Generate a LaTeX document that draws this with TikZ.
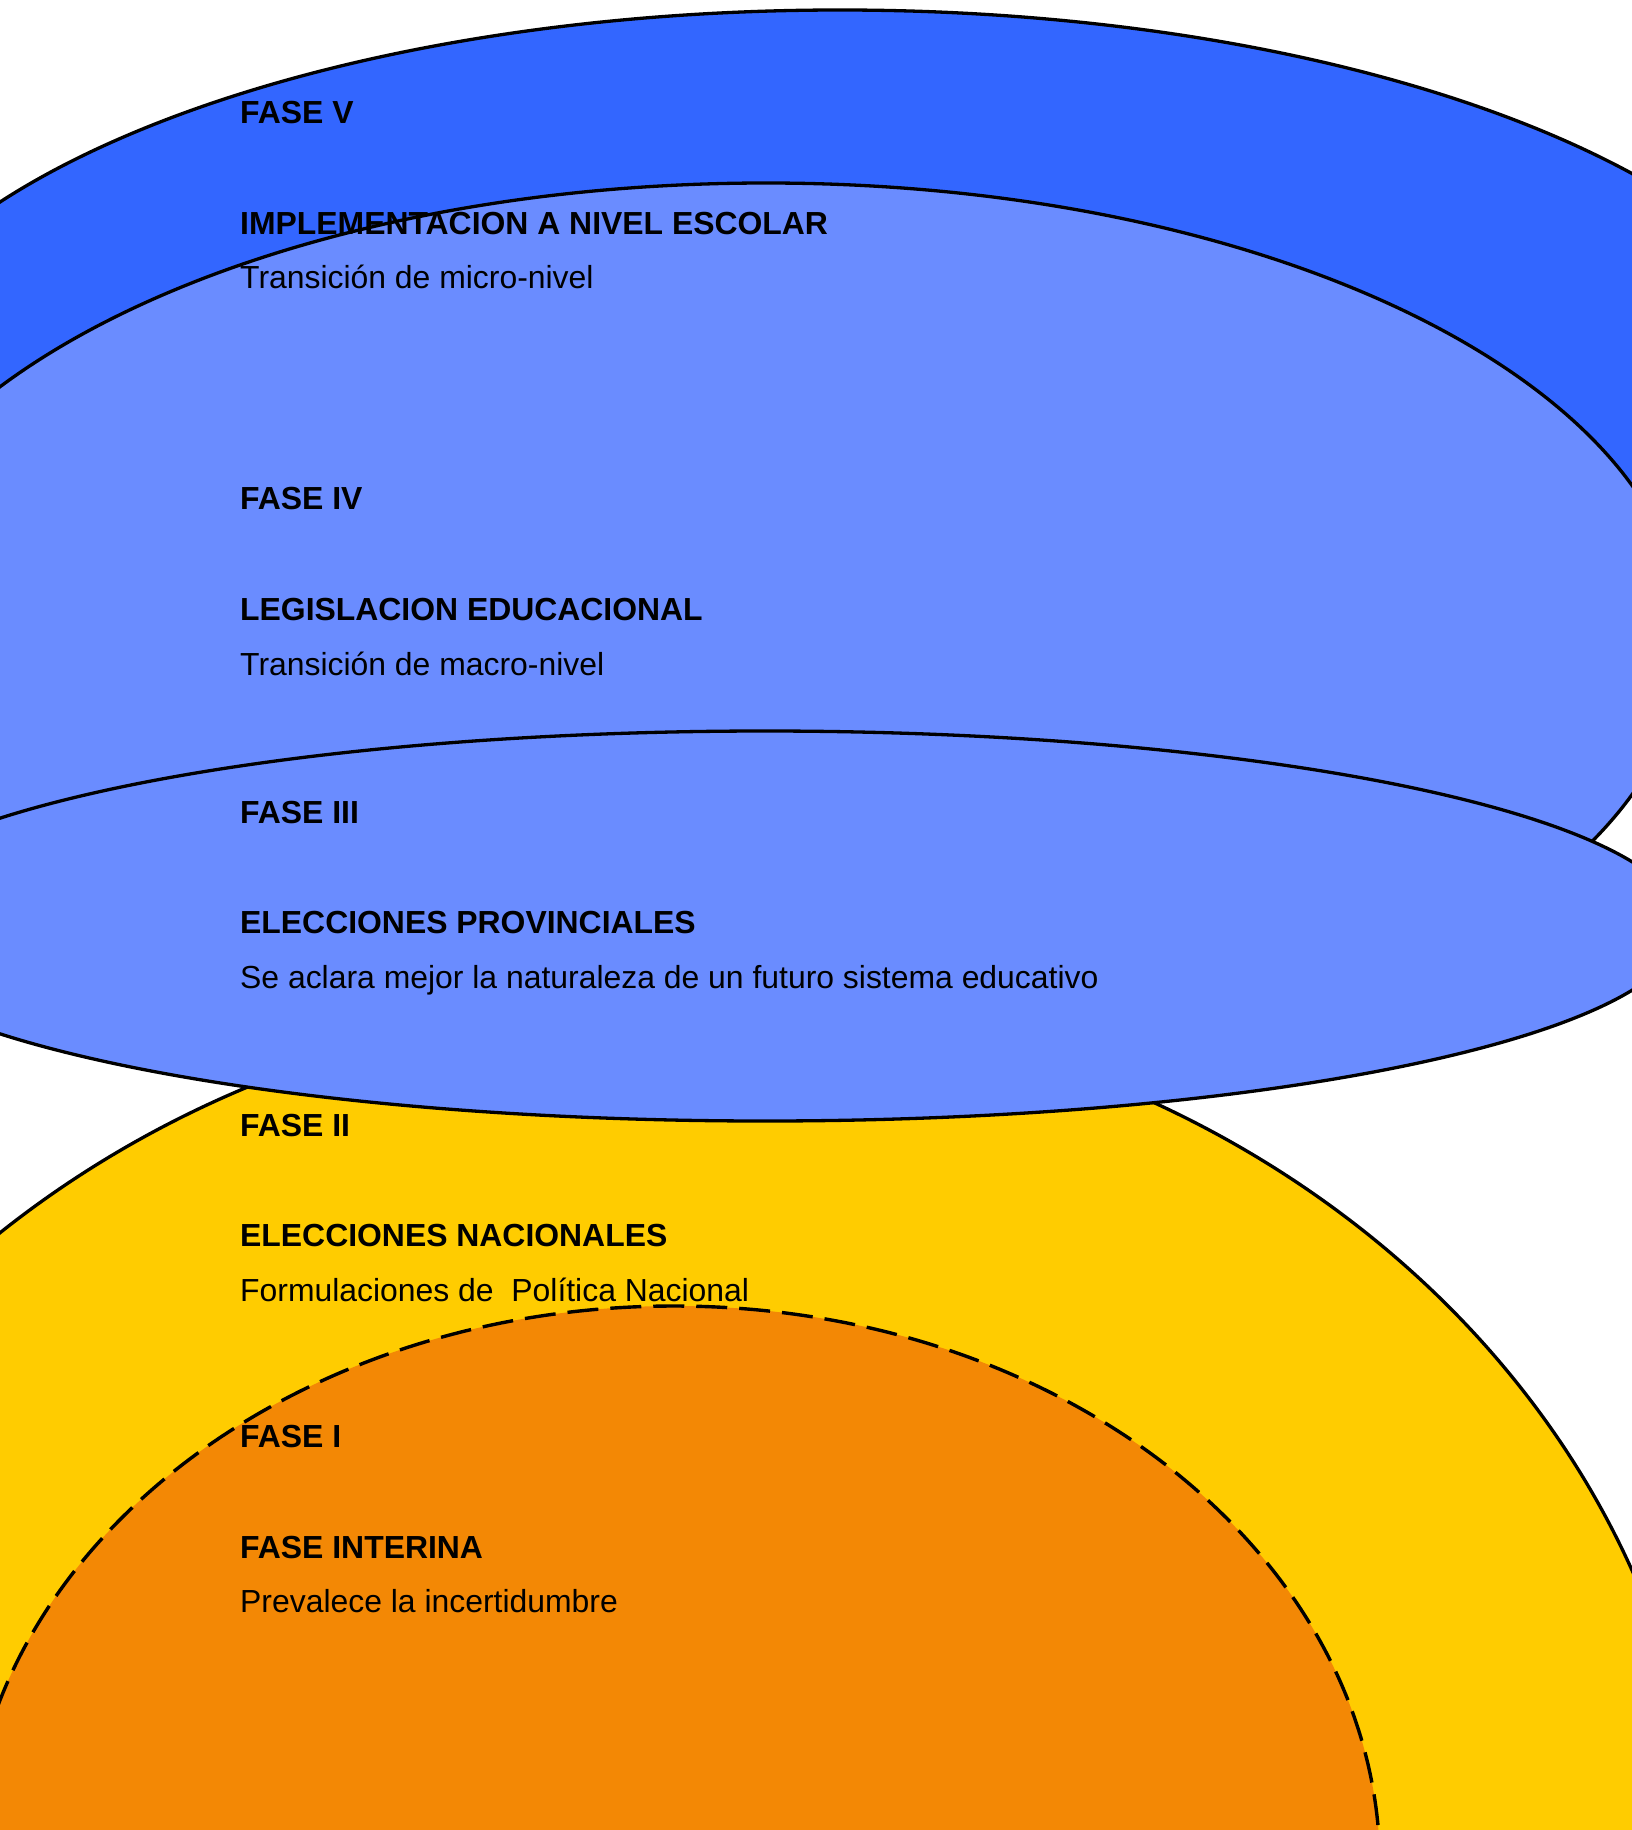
\documentclass[tikz,border=0pt]{standalone}
\usepackage{fontspec}
\setmainfont{Liberation Sans}
\definecolor{colV}{HTML}{3366FF}
\definecolor{colIV}{HTML}{6A8CFF}
\definecolor{colIII}{HTML}{6A8CFF}
\definecolor{colII}{HTML}{FFCC00}
\definecolor{colI}{HTML}{F38805}
\begin{document}
\begin{tikzpicture}[x=1pt,y=-1pt,
  ring/.style={draw=black, line width=3.3pt},
  dashring/.style={draw=black, line width=3.4pt, dash pattern=on 31pt off 12pt},
  lbl/.style={anchor=base west, inner sep=0pt, font=\fontsize{31.9}{38}\selectfont},
  ttl/.style={anchor=base west, inner sep=0pt, font=\fontsize{31.9}{38}\selectfont\bfseries}]
\useasboundingbox (0,0) rectangle (1632,1830);
\fill[white] (0,0) rectangle (1632,1830);
\begin{scope}
\clip (0,0) rectangle (1632,1830);
% Fase V
\filldraw[ring, fill=colV] (840,430) ellipse [x radius=1000pt, y radius=420pt];
% Fase IV
\filldraw[ring, fill=colIV] (766,640) ellipse [x radius=920pt, y radius=457pt];
% Fase II
\filldraw[ring, fill=colII] (683,1904) ellipse [x radius=1021pt, y radius=903pt];
% Fase I
\filldraw[dashring, fill=colI] (674,1868) ellipse [x radius=706pt, y radius=562pt];
% Fase III
\filldraw[ring, fill=colIII] (765,926) ellipse [x radius=918pt, y radius=195pt];
\end{scope}
% texts
\node[ttl] (f5) at (240,123.5) {FASE V};
\node[ttl] (t5) at (240,234) {IMPLEMENTACION A NIVEL ESCOLAR};
\node[lbl] (s5) at (240,288.5) {Transición de micro-nivel};
\node[ttl] (f4) at (240,509.5) {FASE IV};
\node[ttl] (t4) at (240,620.5) {LEGISLACION EDUCACIONAL};
\node[lbl] (s4) at (240,675) {Transición de macro-nivel};
\node[ttl] (f3) at (240,823) {FASE III};
\node[ttl] (t3) at (240,933.5) {ELECCIONES PROVINCIALES};
\node[lbl] (s3) at (240,988) {Se aclara mejor la naturaleza de un futuro sistema educativo};
\node[ttl] (f2) at (240,1136) {FASE II};
\node[ttl] (t2) at (240,1246.5) {ELECCIONES NACIONALES};
\node[lbl] (s2) at (240,1301) {Formulaciones de\ \ Política Nacional};
\node[ttl] (f1) at (240,1447.7) {FASE I};
\node[ttl] (t1) at (240,1558.3) {FASE INTERINA};
\node[lbl] (s1) at (240,1612.7) {Prevalece la incertidumbre};
\end{tikzpicture}
\end{document}
